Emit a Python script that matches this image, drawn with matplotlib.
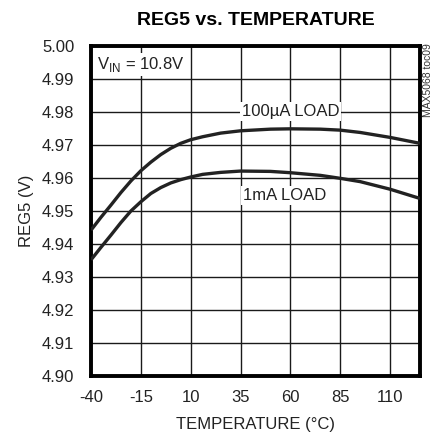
import matplotlib
matplotlib.use("Agg")
import matplotlib.pyplot as plt

plt.rcParams["font.family"] = ["Liberation Sans", "DejaVu Sans"]
plt.rcParams["mathtext.fontset"] = "custom"
plt.rcParams["mathtext.rm"] = "Liberation Sans"

# REG5 output voltage against temperature, two load currents
temperatura = [-40, -35, -30, -25, -20, -15, -10, -5, 0, 5, 10, 16, 25, 35, 50, 60,
               75, 85, 95, 110, 125]
carga_100uA = [4.9442, 4.9481, 4.9518, 4.9556, 4.9591, 4.9622, 4.9648, 4.9671, 4.9690,
               4.9705, 4.9716, 4.9725, 4.9736, 4.9743, 4.9748, 4.9749, 4.9748, 4.9745,
               4.9738, 4.9723, 4.9705]
carga_1mA = [4.9352, 4.9390, 4.9427, 4.9465, 4.9500, 4.9528, 4.9553, 4.9571, 4.9585,
             4.9595, 4.9603, 4.9611, 4.9617, 4.9621, 4.9620, 4.9616, 4.9608, 4.9599,
             4.9589, 4.9566, 4.9538]

xticks = [-40, -15, 10, 35, 60, 85, 110]
yticks = [4.90, 4.91, 4.92, 4.93, 4.94, 4.95, 4.96, 4.97, 4.98, 4.99, 5.00]

fig = plt.figure(figsize=(4.38, 4.33), dpi=100)
ax = fig.add_axes([0.2078, 0.1316, 0.7511, 0.7622])

ax.plot(temperatura, carga_100uA, color="#222222", lw=2.4, solid_capstyle="butt", zorder=3)
ax.plot(temperatura, carga_1mA, color="#222222", lw=2.4, solid_capstyle="butt", zorder=3)

ax.set_xlim(-40, 125)
ax.set_ylim(4.90, 5.00)
ax.set_xticks(xticks + [125])
ax.set_xticklabels([str(t) for t in xticks] + [""])
ax.set_yticks(yticks)
ax.set_yticklabels([f"{v:.2f}" for v in yticks])
ax.tick_params(length=0, labelsize=12, colors="#222222")
ax.tick_params(axis="y", pad=12)
ax.tick_params(axis="x", pad=10)
ax.grid(True, color="#1a1a1a", lw=1.0)
ax.set_axisbelow(True)
for s in ax.spines.values():
    s.set_linewidth(2.8)
    s.set_color("black")

ax.set_xlabel("TEMPERATURE (°C)", fontsize=12, color="#222222", labelpad=9)
ax.set_ylabel("REG5 (V)", fontsize=12, color="#222222", labelpad=6)
ax.set_title("REG5 vs. TEMPERATURE", fontsize=14, fontweight="bold", pad=15)

caixa = dict(facecolor="white", edgecolor="none", pad=1.5)
ax.text(-37, 4.9945, r"V$_\mathregular{IN}$ = 10.8V", fontsize=12, va="center", ha="left",
        color="#222222", bbox=caixa, zorder=4)
ax.text(60, 4.9801, "100µA LOAD", fontsize=12, ha="center", va="center",
        color="#222222", bbox=caixa, zorder=4)
ax.text(57, 4.9546, "1mA LOAD", fontsize=12, ha="center", va="center",
        color="#222222", bbox=caixa, zorder=4)

fig.text(0.978, 0.815, "MAX5068 toc09", rotation=90, fontsize=7.5, ha="center",
         va="center", color="#333333")

fig.savefig("out.png", dpi=100)
